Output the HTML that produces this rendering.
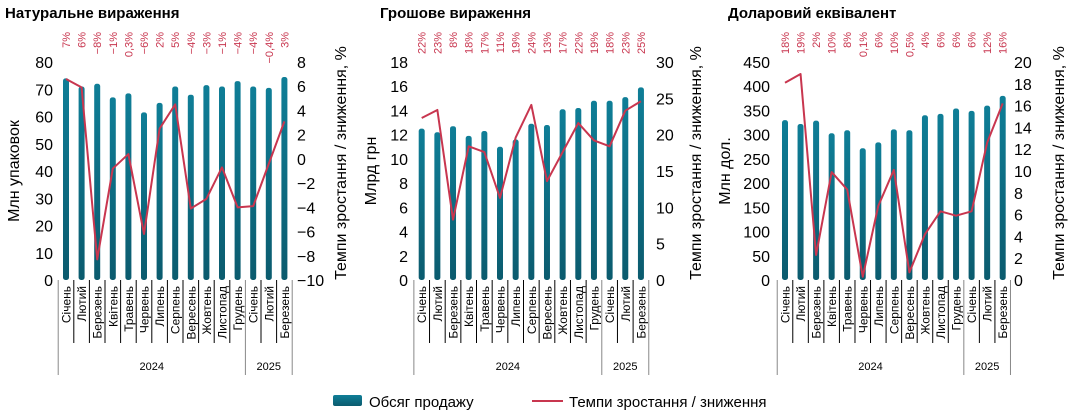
<!DOCTYPE html>
<html><head><meta charset="utf-8"><style>
body{margin:0;background:#fff;}
svg{display:block;font-family:"Liberation Sans","DejaVu Sans",sans-serif;}
</style></head><body>
<svg id="s" width="1069" height="413" viewBox="0 0 1069 413" xmlns="http://www.w3.org/2000/svg">
<defs><linearGradient id="g" x1="0" y1="0" x2="0" y2="1"><stop offset="0" stop-color="#0f7e97"/><stop offset="1" stop-color="#0b5b6e"/></linearGradient></defs>
</svg>
<script>
const S=document.getElementById('s');let h='';
const months=['Січень','Лютий','Березень','Квітень','Травень','Червень','Липень','Серпень','Вересень','Жовтень','Листопад','Грудень','Січень','Лютий','Березень'];
const charts=[
{title:'Натуральне вираження',tx:5,x0:66,dx:15.6,lmax:80,lstep:10,rmin:-10,rmax:8,rstep:2,lx:53,rx:297,ltx:19,rtx:346,lt:'Млн упаковок',
 bars:[74,71,72,67,68.5,61.5,65,71,68,71.5,71,73,71,70.5,74.5],
 line:[6.6,5.9,-8.3,-0.8,0.4,-6.2,2.5,4.5,-4.1,-3.3,-0.7,-4.0,-3.9,-0.4,3.1],
 pct:['7%','6%','−8%','−1%','0,3%','−6%','2%','5%','−4%','−3%','−1%','−4%','−4%','−0,4%','3%']},
{title:'Грошове вираження',tx:380,x0:421.7,dx:15.66,lmax:18,lstep:2,rmin:0,rmax:30,rstep:5,lx:408,rx:656,ltx:376,rtx:701,lt:'Млрд грн',
 bars:[12.5,12.2,12.7,11.9,12.3,11,11.6,12.9,12.8,14.1,14.2,14.8,14.8,15.1,15.9],
 line:[22.3,23.4,8.3,18.4,17.6,11.3,19.6,24.1,13.6,17.6,21.6,19.2,18.4,23.3,24.6],
 pct:['22%','23%','8%','18%','17%','11%','19%','24%','13%','17%','22%','19%','18%','23%','25%']},
{title:'Доларовий еквівалент',tx:728,x0:785,dx:15.55,lmax:450,lstep:50,rmin:0,rmax:20,rstep:2,lx:770,rx:1014,ltx:730,rtx:1064,lt:'Млн дол.',
 bars:[330,322,329,303,309,272,284,311,309,340,343,354,349,360,380],
 line:[18.1,18.9,2.3,9.9,8.3,0.3,6.8,10.1,0.7,4.2,6.3,5.9,6.3,12.6,16.2],
 pct:['18%','19%','2%','10%','8%','0,1%','6%','10%','0,5%','4%','6%','6%','6%','12%','16%']}];
const T=62,B=280;
charts.forEach(c=>{
 h+=`<text x="${c.tx}" y="18" font-size="15" font-weight="bold">${c.title}</text>`;
 for(let v=0;v<=c.lmax;v+=c.lstep){const y=B-(B-T)*v/c.lmax;h+=`<text x="${c.lx}" y="${y+6}" font-size="16" text-anchor="end">${v}</text>`;}
 for(let v=c.rmin;v<=c.rmax;v+=c.rstep){const y=B-(B-T)*(v-c.rmin)/(c.rmax-c.rmin);h+=`<text x="${c.rx}" y="${y+6}" font-size="16">${v<0?'−'+(-v):v}</text>`;}
 h+=`<text transform="translate(${c.ltx},${(T+B)/2}) rotate(-90)" font-size="16" text-anchor="middle">${c.lt}</text>`;
 h+=`<text transform="translate(${c.rtx},${(T+B)/2-8}) rotate(-90)" font-size="16" text-anchor="middle">Темпи зростання / зниження, %</text>`;
 let pts=[];
 c.bars.forEach((b,i)=>{const x=c.x0+c.dx*i,y=B-(B-T)*b/c.lmax;
  h+=`<rect x="${x-3}" y="${y}" width="6" height="${B-y}" rx="2.5" fill="url(#g)"/>`;
  pts.push(x+','+(B-(B-T)*(c.line[i]-c.rmin)/(c.rmax-c.rmin)));
  h+=`<text transform="translate(${x+4},32) rotate(-90)" font-size="11" fill="#c8364f" text-anchor="end">${c.pct[i]}</text>`;
  h+=`<text transform="translate(${x+4.5},286) rotate(-90)" font-size="12" text-anchor="end">${months[i]}</text>`;
 });
 h+=`<polyline points="${pts.join(' ')}" fill="none" stroke="#c8364f" stroke-width="2" stroke-linejoin="round"/>`;
 for(let i=0;i<=15;i++){const x=c.x0-c.dx/2+c.dx*i;const long=(i==0||i==12||i==15);
  h+=`<line x1="${x}" y1="280" x2="${x}" y2="${long?375:343}" stroke="${long?'#888':'#000'}" stroke-width="1"/>`;}
 const L=c.x0-c.dx/2;
 h+=`<text x="${L+c.dx*6}" y="370" font-size="11" text-anchor="middle">2024</text>`;
 h+=`<text x="${L+c.dx*13.5}" y="370" font-size="11" text-anchor="middle">2025</text>`;
});
h+=`<rect x="333" y="395" width="29" height="11" rx="2" fill="url(#g)"/><text x="369" y="407" font-size="15">Обсяг продажу</text>`;
h+=`<line x1="532" y1="401" x2="563" y2="401" stroke="#c8364f" stroke-width="2"/><text x="569" y="407" font-size="15">Темпи зростання / зниження</text>`;
S.insertAdjacentHTML('beforeend',h);
</script>
</body></html>
